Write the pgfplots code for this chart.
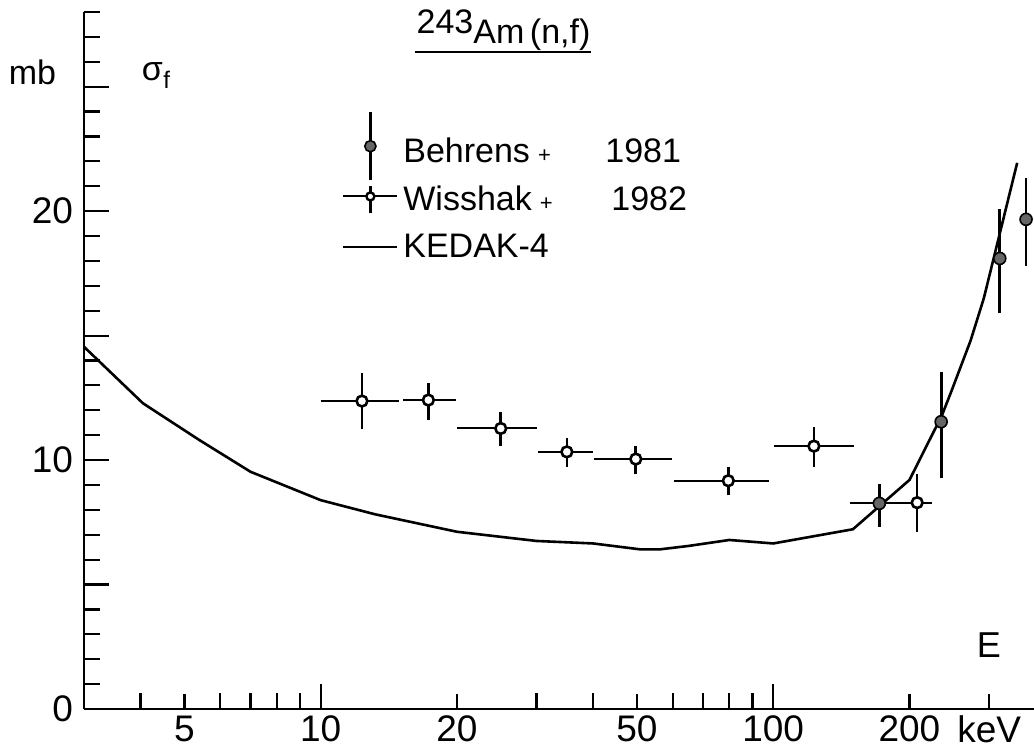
\documentclass[border=0pt]{standalone}
\usepackage{fontspec}
\setmainfont{Liberation Sans}
\usepackage{pgfplots}
\pgfplotsset{compat=1.18}
\begin{document}
\begin{tikzpicture}
\path[use as bounding box] (0pt,0pt) rectangle (517pt,376.5pt);
\begin{axis}[
  at={(42pt,22pt)}, anchor=south west,
  width=475pt, height=348.5pt, scale only axis,
  xmode=log, xmin=3, xmax=377, ymin=0, ymax=28,
  axis x line=bottom, axis y line=left,
  axis line style={-, line width=1.3pt},
  tick align=inside,
  tick style={line width=1.1pt, black},
  major tick length=12.5pt, minor tick length=8pt,
  xtick={10,100}, xticklabels={10,100},
  extra x ticks={5,20,50,200,300},
  extra x tick labels={5,20,50,200,keV},
  extra x tick style={major tick length=7.5pt},
  minor xtick={4,6,7,8,9,30,40,60,70,80,90},
  ytick={0,10,20}, yticklabels={0,10,20},
  extra y ticks={5,15,25}, extra y tick labels={},
  minor ytick={1,2,...,28},
  ticklabel style={font=\fontsize{18.5}{20}\selectfont},
  yticklabel style={xshift=-2pt},
  /pgf/number format/assume math mode=true,
  clip=false,
  unbounded coords=jump,
  legend cell align=left,
  legend style={draw=none, fill=none, at={(0.2726,0.8207)}, anchor=north west,
    inner sep=0pt, row sep=10.3pt, font=\fontsize{17}{18}\selectfont,
    nodes={inner xsep=3pt, inner ysep=0pt}},
]
% Behrens vertical error bars
\addplot[forget plot, black, line width=1.4pt] coordinates {
 (171.6,7.32)(171.6,9.02)(171.6,nan)
 (235,9.27)(235,13.55)(235,nan)
 (316.7,15.9)(316.7,20.1)(316.7,nan)
 (362,17.8)(362,21.35)};
% Behrens horizontal bar
\addplot[forget plot, black, line width=1pt] coordinates {(148,8.26)(198,8.26)};
% Wisshak horizontal bars
\addplot[forget plot, black, line width=1pt] coordinates {
 (10,12.37)(14.9,12.37)(14.9,nan)
 (15.2,12.41)(19.9,12.41)(19.9,nan)
 (20,11.27)(30,11.27)(30,nan)
 (30.2,10.33)(40,10.33)(40,nan)
 (40.1,10.04)(59.7,10.04)(59.7,nan)
 (60.3,9.17)(98,9.17)(98,nan)
 (100.6,10.56)(150.5,10.56)(150.5,nan)
 (196,8.29)(224,8.29)};
% Wisshak vertical bars
\addplot[forget plot, black, line width=1.3pt] coordinates {
 (12.34,11.23)(12.34,13.48)(12.34,nan)
 (17.3,11.6)(17.3,13.1)(17.3,nan)
 (25,10.56)(25,11.94)(25,nan)
 (35,9.73)(35,10.87)(35,nan)
 (49.7,9.43)(49.7,10.56)(49.7,nan)
 (79.6,8.59)(79.6,9.73)(79.6,nan)
 (123,9.71)(123,11.34)(123,nan)
 (208,7.10)(208,9.44)};
% Behrens points
\addplot[only marks, mark=*, mark size=3pt,
  mark options={fill=black!60, draw=black, line width=0.8pt},
  legend image code/.code={
    \path[draw=none, fill=none] (0pt,-3pt) rectangle (27pt,3pt);
    \draw[overlay, black, line width=1.4pt] (13.5pt,-14.5pt) -- (13.5pt,19.5pt);
    \draw[overlay, fill=black!60, draw=black, line width=0.8pt] (13.5pt,2.5pt) circle (2.8pt);
  }] coordinates {(171.6,8.26)(235,11.54)(316.7,18.1)(362,19.67)};
\addlegendentry{\makebox[101pt][l]{Behrens\hspace{4pt}{\fontsize{11}{12}\selectfont +}}1981\rule[-5pt]{0pt}{0pt}}
% Wisshak points
\addplot[only marks, mark=*, mark size=2.7pt,
  mark options={fill=white, draw=black, line width=1.3pt},
  legend image code/.code={
    \path[draw=none, fill=none] (0pt,-3pt) rectangle (27pt,3pt);
    \draw[overlay, black, line width=1pt] (0pt,1.5pt) -- (27pt,1.5pt);
    \draw[overlay, black, line width=1.3pt] (13.5pt,-7pt) -- (13.5pt,6.5pt);
    \draw[overlay, fill=white, draw=black, line width=1.2pt] (13.5pt,1.5pt) circle (2pt);
  }] coordinates {(12.34,12.37)(17.3,12.41)(25,11.27)(35,10.33)(49.7,10.04)(79.6,9.17)(123,10.56)(208,8.29)};
\addlegendentry{\makebox[104pt][l]{Wisshak\hspace{4pt}{\fontsize{11}{12}\selectfont +}}1982}
% KEDAK-4
\addplot[black, line width=1.3pt,
  legend image code/.code={
    \path[draw=none, fill=none] (0pt,-3pt) rectangle (27pt,3pt);
    \draw[overlay, black, line width=1.3pt] (0pt,0pt) -- (27pt,0pt);
  }] coordinates {
 (3,14.55)(4.05,12.28)(5.4,10.8)(7.0,9.53)(10,8.39)(13.2,7.82)(20,7.12)
 (30,6.75)(40,6.65)(51,6.41)(56,6.41)(65,6.55)(80,6.79)(100,6.65)(150,7.22)
 (200,9.2)(236,11.8)(248,12.8)(273,14.8)(292,16.5)(346,21.94)};
\addlegendentry{KEDAK-4}
% texts
\node[font=\fontsize{17}{18}\selectfont] at (rel axis cs:-0.0542,0.9132) {mb};
\node[font=\fontsize{17}{18}\selectfont] at (rel axis cs:0.0758,0.9082) {σ\kern0.3pt\raisebox{-4pt}{\fontsize{12}{14}\selectfont f}};
\node[font=\fontsize{18}{18}\selectfont, anchor=base] at (rel axis cs:0.9526,0.0732) {E};
\node[font=\fontsize{17}{18}\selectfont, anchor=base] at (rel axis cs:0.4416,0.9555) {\raisebox{5pt}{243}Am\,(n,f)};
\draw[line width=1pt] (rel axis cs:0.3484,0.9426) -- (rel axis cs:0.5337,0.9426);
\end{axis}
\end{tikzpicture}
\end{document}
